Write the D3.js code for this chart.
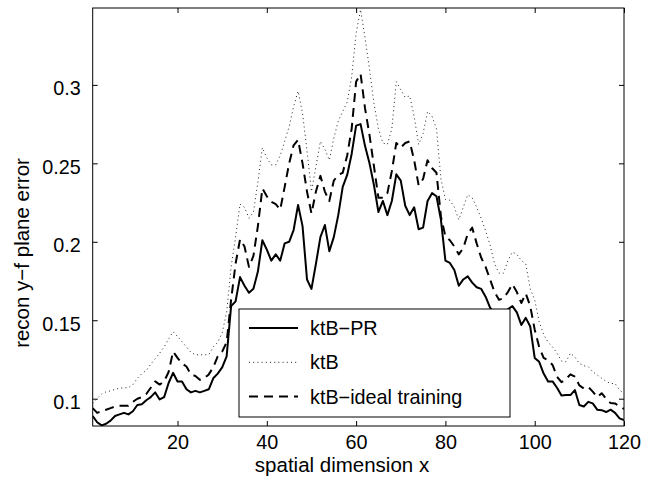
<!DOCTYPE html>
<html>
<head>
<meta charset="utf-8">
<script src="https://cdn.jsdelivr.net/npm/d3@7"></script>
<style>
  body { margin: 0; background: #fff; }
  svg { display: block; }
  text { font-family: "Liberation Sans", Arial, sans-serif; fill: #000; }
  .axis path { display: none; }
  .axis line { stroke: #000; }
</style>
</head>
<body>
<svg width="656" height="484"></svg>
<script>
// x = 1..120
var ktbPR = [0.089, 0.085, 0.083, 0.084, 0.086, 0.089, 0.090, 0.091, 0.090, 0.092,
  0.096, 0.0965, 0.099, 0.101, 0.104, 0.0995, 0.101, 0.110, 0.1165, 0.111,
  0.111, 0.106, 0.104, 0.105, 0.104, 0.105, 0.106, 0.113, 0.116, 0.120,
  0.127, 0.159, 0.162, 0.1775, 0.172, 0.1675, 0.170, 0.181, 0.201, 0.195,
  0.188, 0.192, 0.188, 0.199, 0.200, 0.2075, 0.2235, 0.21, 0.176, 0.170,
  0.186, 0.203, 0.2107, 0.194, 0.203, 0.217, 0.235, 0.2426, 0.256, 0.274,
  0.275, 0.261, 0.250, 0.236, 0.219, 0.226, 0.217, 0.226, 0.243, 0.239,
  0.223, 0.217, 0.222, 0.208, 0.209, 0.226, 0.231, 0.229, 0.214, 0.188,
  0.1865, 0.182, 0.172, 0.176, 0.178, 0.174, 0.171, 0.170, 0.165, 0.158,
  0.154, 0.152, 0.154, 0.157, 0.159, 0.155, 0.147, 0.1515, 0.146, 0.126,
  0.1235, 0.116, 0.111, 0.111, 0.107, 0.102, 0.1023, 0.1023, 0.1055, 0.096,
  0.095, 0.098, 0.097, 0.093, 0.0927, 0.0915, 0.093, 0.091, 0.0875, 0.0864];

var ktb = [0.097, 0.100, 0.103, 0.1044, 0.105, 0.106, 0.1066, 0.107, 0.107, 0.109,
  0.113, 0.116, 0.118, 0.122, 0.1255, 0.129, 0.133, 0.138, 0.1427, 0.1396,
  0.1363, 0.133, 0.1295, 0.128, 0.128, 0.128, 0.128, 0.133, 0.136, 0.142,
  0.155, 0.184, 0.203, 0.224, 0.222, 0.215, 0.219, 0.238, 0.26, 0.2535,
  0.249, 0.249, 0.255, 0.264, 0.2734, 0.2862, 0.296, 0.282, 0.258, 0.232,
  0.248, 0.264, 0.259, 0.252, 0.266, 0.277, 0.283, 0.289, 0.305, 0.333,
  0.348, 0.330, 0.310, 0.288, 0.272, 0.263, 0.262, 0.272, 0.302, 0.297,
  0.292, 0.293, 0.280, 0.262, 0.269, 0.283, 0.280, 0.272, 0.240, 0.227,
  0.2265, 0.222, 0.214, 0.222, 0.230, 0.228, 0.222, 0.215, 0.207, 0.198,
  0.186, 0.180, 0.180, 0.188, 0.1935, 0.192, 0.188, 0.186, 0.170, 0.163,
  0.149, 0.141, 0.136, 0.133, 0.129, 0.124, 0.1235, 0.129, 0.1265, 0.1225,
  0.121, 0.1204, 0.1172, 0.1151, 0.113, 0.111, 0.1097, 0.1097, 0.1055, 0.1035];

var ktbIdeal = [0.094, 0.091, 0.092, 0.093, 0.094, 0.095, 0.0955, 0.0955, 0.0955, 0.098,
  0.100, 0.101, 0.103, 0.107, 0.111, 0.109, 0.111, 0.117, 0.130, 0.126,
  0.1225, 0.1205, 0.1155, 0.1145, 0.112, 0.113, 0.1155, 0.120, 0.127, 0.130,
  0.136, 0.163, 0.186, 0.2015, 0.197, 0.184, 0.191, 0.210, 0.234, 0.229,
  0.2255, 0.224, 0.2205, 0.235, 0.250, 0.2615, 0.265, 0.250, 0.232, 0.218,
  0.232, 0.242, 0.232, 0.226, 0.239, 0.2426, 0.244, 0.255, 0.272, 0.302,
  0.307, 0.285, 0.268, 0.248, 0.228, 0.228, 0.231, 0.245, 0.263, 0.260,
  0.263, 0.264, 0.252, 0.236, 0.240, 0.252, 0.247, 0.244, 0.216, 0.2035,
  0.201, 0.197, 0.192, 0.196, 0.205, 0.209, 0.199, 0.190, 0.184, 0.176,
  0.168, 0.163, 0.164, 0.168, 0.173, 0.168, 0.161, 0.167, 0.159, 0.144,
  0.133, 0.126, 0.1245, 0.1215, 0.114, 0.1105, 0.1125, 0.1155, 0.114, 0.1085,
  0.1065, 0.1075, 0.1045, 0.101, 0.1035, 0.100, 0.0972, 0.097, 0.095, 0.0935];

var xTicks = [20, 40, 60, 80, 100, 120];
var yTicks = [0.1, 0.15, 0.2, 0.25, 0.3];
var seriesNames = ["ktB\u2212PR", "ktB", "ktB\u2212ideal training"];

var svg = d3.select("svg"),
    margin = {top: 8, right: 32, bottom: 58, left: 92.7},
    width = svg.attr("width") - margin.left - margin.right,
    height = svg.attr("height") - margin.top - margin.bottom,
    g = svg.append("g").attr("transform", "translate(" + margin.left + "," + margin.top + ")");

var xScale = d3.scaleLinear().domain([1, 120]).range([0, width]),
    yScale = d3.scaleLinear().domain([0.0826, 0.349]).range([height, 0]);

var series = [
  {name: seriesNames[0], values: ktbPR, width: 2, dash: null, color: "#000"},
  {name: seriesNames[1], values: ktb, width: 1, dash: "1,3.2", color: "#222"},
  {name: seriesNames[2], values: ktbIdeal, width: 2, dash: "9,6", color: "#000"}
];

var line = d3.line()
    .x(function (d, i) { return xScale(i + 1); })
    .y(function (d) { return yScale(d); });

g.append("clipPath").attr("id", "clip")
  .append("rect").attr("width", width).attr("height", height);

g.append("g").attr("clip-path", "url(#clip)")
  .selectAll(".line")
  .data(series)
  .enter().append("path")
  .attr("class", "line")
  .attr("fill", "none")
  .attr("d", function (d) { return line(d.values); })
  .attr("stroke", function (d) { return d.color; })
  .attr("stroke-width", function (d) { return d.width; })
  .attr("stroke-dasharray", function (d) { return d.dash; })
  .attr("stroke-linejoin", "round");

// axes, ticks pointing inward
var fs = "19.8px";
var xAxis = d3.axisBottom(xScale).tickValues(xTicks).tickSizeInner(-5).tickSizeOuter(0).tickPadding(9);
var gX = g.append("g").attr("class", "axis").attr("transform", "translate(0," + height + ")").call(xAxis);
gX.selectAll("text").style("font-size", fs);

g.append("g").attr("class", "axis")
  .call(d3.axisTop(xScale).tickValues(xTicks).tickSizeInner(-5).tickSizeOuter(0).tickFormat(""));

var yAxis = d3.axisLeft(yScale).tickValues(yTicks).tickSizeInner(-5).tickSizeOuter(0).tickPadding(12)
  .tickFormat(function (v) { return String(+v.toFixed(2)); });
var gY = g.append("g").attr("class", "axis").call(yAxis);
gY.selectAll("text").style("font-size", fs).attr("dy", "0.5em");

g.append("g").attr("class", "axis").attr("transform", "translate(" + width + ",0)")
  .call(d3.axisRight(yScale).tickValues(yTicks).tickSizeInner(-5).tickSizeOuter(0).tickFormat(""));

g.append("rect")
  .attr("width", width).attr("height", height)
  .attr("fill", "none").attr("stroke", "#000").attr("stroke-width", 1);

// axis labels
svg.append("text")
  .attr("x", 342).attr("y", 472)
  .attr("text-anchor", "middle")
  .style("font-size", "20.5px")
  .text("spatial dimension x");

svg.append("text")
  .attr("transform", "translate(29,253) rotate(-90)")
  .attr("text-anchor", "middle")
  .style("font-size", "20.5px")
  .text("recon y\u2212f plane error");

// legend
var legend = svg.append("g").attr("class", "legend").attr("transform", "translate(239,309)");
legend.append("rect")
  .attr("width", 271).attr("height", 108)
  .attr("fill", "#fff").attr("stroke", "#000").attr("stroke-width", 1);

var legendRows = legend.selectAll(".legend-row")
  .data(series)
  .enter().append("g")
  .attr("class", "legend-row")
  .attr("transform", function (d, i) { return "translate(0," + (19 + i * 34.3) + ")"; });

legendRows.append("line")
  .attr("x1", 10).attr("x2", 59)
  .attr("stroke", function (d) { return d.color; })
  .attr("stroke-width", function (d) { return d.width; })
  .attr("stroke-dasharray", function (d) { return d.dash; });

legendRows.append("text")
  .attr("x", 71).attr("dy", "0.36em")
  .style("font-size", fs)
  .text(function (d) { return d.name; });
</script>
</body>
</html>
